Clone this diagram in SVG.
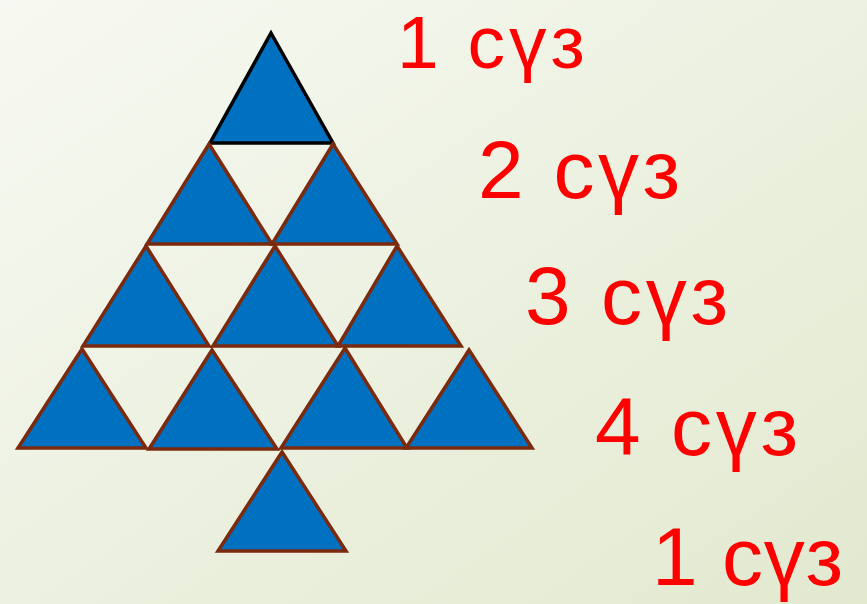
<svg xmlns="http://www.w3.org/2000/svg" width="867" height="604" viewBox="0 0 867 604">
<defs>
<linearGradient id="bg" x1="0" y1="0" x2="1" y2="1">
<stop offset="0" stop-color="#f7f9f2"/>
<stop offset="1" stop-color="#e2e9cf"/>
</linearGradient>
</defs>
<style>
.tri{fill:#0070c0;stroke:#7b2a0e;stroke-width:3.5;stroke-linejoin:miter}
.top{stroke:#000}
.lbl{font-family:"Liberation Sans","DejaVu Sans",sans-serif;font-size:82px;fill:#ff0000}
</style>
<rect width="867" height="604" fill="url(#bg)"/>
<g id="tree">
<g id="t1"><polygon class="tri top" points="271,33 333,143 210,143"/></g>
<g id="t2a"><polygon class="tri" points="209,144 272,244 147,244"/></g>
<g id="t2b"><polygon class="tri" points="333,144 397,244 272,244"/></g>
<g id="t3a"><polygon class="tri" points="146,246 209,346 83,346"/></g>
<g id="t3b"><polygon class="tri" points="275,246 338,346 213,346"/></g>
<g id="t3c"><polygon class="tri" points="397,246 461,346 338,346"/></g>
<g id="t4a"><polygon class="tri" points="82,349 146,448 18,448"/></g>
<g id="t4b"><polygon class="tri" points="212,350 277,449 149,449"/></g>
<g id="t4c"><polygon class="tri" points="345,348 407,448 281,448"/></g>
<g id="t4d"><polygon class="tri" points="469,350 532,448 406,448"/></g>
<g id="trunk"><polygon class="tri" points="282,452 346,551 218,551"/></g>
</g>
<g id="labels">
<text class="lbl" x="397" y="68" font-size="75" style="font-size:75px" textLength="188" lengthAdjust="spacing">1 сүз</text>
<text class="lbl" x="478" y="198" textLength="202" lengthAdjust="spacing">2 сүз</text>
<text class="lbl" x="525" y="324" textLength="203" lengthAdjust="spacing">3 сүз</text>
<text class="lbl" x="595" y="455" textLength="203" lengthAdjust="spacing">4 сүз</text>
<text class="lbl" x="652" y="585" textLength="191" lengthAdjust="spacing">1 сүз</text>
</g>
</svg>
